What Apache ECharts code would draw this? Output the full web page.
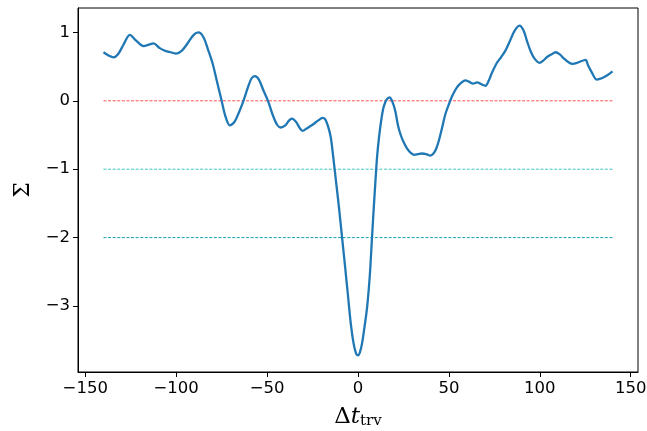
<!DOCTYPE html>
<html><head><meta charset="utf-8">
<script src="https://cdn.jsdelivr.net/npm/echarts@6/dist/echarts.min.js"></script>
<style>html,body{margin:0;padding:0;background:#fff}#c{width:647px;height:431px}</style>
</head><body><div id="c"></div>
<script>
const xValues = [-140,-137,-134.5,-132,-129,-125.5,-122,-118,-115,-112.5,-109,-106,-103,-100,-97,-94,-90.5,-87.8,-85,-82.5,-80,-77,-75,-73,-70.5,-68,-65.5,-63,-60.5,-58.5,-56.7,-54.5,-52,-49.5,-47,-44.5,-42.5,-40,-38,-36.3,-34,-32,-30.5,-28,-25,-22,-19.5,-18,-16.5,-15,-13.5,-12,-10.5,-8.8,-7,-5.5,-4,-2.4,-1,0,1,2.2,3.5,5,6.5,7.7,8.7,9.6,10.5,11.5,12.8,14.1,15.8,17.4,19,20.5,22,23.5,25,27,29,31,33,35.2,37.5,39.8,41.5,43,44.5,46.3,48,50,52,54.5,57,59.1,61,63.3,65.5,68,70.1,72,73.5,76.5,78.5,81,83.5,86,88.8,91,93,95,97,99.8,102,104,106.5,108.6,111,113.2,116,118,121,125.2,126.5,128.5,131.2,133,135.2,137.5,140];
const sigmaValues = [0.71,0.66,0.635,0.68,0.82,0.965,0.88,0.80,0.82,0.84,0.77,0.73,0.71,0.69,0.73,0.83,0.96,1.00,0.93,0.75,0.55,0.22,0.0,-0.22,-0.36,-0.31,-0.17,0.0,0.2,0.33,0.36,0.31,0.15,0.0,-0.2,-0.35,-0.39,-0.36,-0.29,-0.26,-0.31,-0.40,-0.44,-0.40,-0.35,-0.29,-0.25,-0.27,-0.37,-0.53,-0.85,-1.2,-1.55,-1.99,-2.45,-2.85,-3.25,-3.55,-3.70,-3.72,-3.68,-3.55,-3.32,-3.02,-2.55,-2.0,-1.55,-1.17,-0.82,-0.55,-0.28,-0.09,0.02,0.05,-0.02,-0.15,-0.36,-0.50,-0.60,-0.70,-0.76,-0.79,-0.78,-0.77,-0.78,-0.80,-0.77,-0.70,-0.58,-0.39,-0.20,-0.05,0.08,0.20,0.27,0.30,0.28,0.25,0.27,0.24,0.22,0.30,0.40,0.56,0.63,0.73,0.87,1.02,1.10,1.03,0.87,0.72,0.62,0.555,0.59,0.64,0.68,0.71,0.68,0.62,0.56,0.54,0.56,0.60,0.52,0.42,0.31,0.32,0.345,0.38,0.43];
const refLevels = [0, -1, -2];
const refRange = [-140, 140];
const xTicks = [-150,-100,-50,0,50,100,150];
const yTicks = [-3,-2,-1,0,1];

const refColors = ['#ff5050', '#40c4c4', '#18a2b0'];
const fmt = v => String(v).replace('-', '\u2212');
const chart = echarts.init(document.getElementById('c'), null, {renderer: 'canvas'});
const series = [];
refLevels.forEach((lv, i) => {
  series.push({
    type: 'line', data: refRange.map(x => [x, lv]), symbol: 'none', silent: true,
    lineStyle: {color: refColors[i], width: 1, type: [3, 1.6]}, z: 1
  });
});
series.push({
  type: 'line', data: xValues.map((x, i) => [x, sigmaValues[i]]), symbol: 'none',
  smooth: 0.3, lineStyle: {color: '#1f77b4', width: 2.3}, z: 3
});
const axisCommon = {
  axisLine: {show: true, onZero: false, lineStyle: {color: '#000', width: 1}},
  splitLine: {show: false},
};
chart.setOption({
  animation: false,
  backgroundColor: '#fff',
  grid: {left: 78, right: 9, top: 8, bottom: 59, outerBoundsMode: 'none', containLabel: false,
         show: true, borderColor: '#000', borderWidth: 1, backgroundColor: 'transparent'},
  xAxis: Object.assign({
    type: 'value', min: -154, max: 154,
    axisLabel: {customValues: xTicks, formatter: fmt, fontFamily: 'DejaVu Sans', fontSize: 16.5, color: '#000', margin: 8},
    axisTick: {show: true, customValues: xTicks, length: 5, lineStyle: {color: '#000'}},
    name: '{d|Δ}{t|t}{s|trv}', nameLocation: 'middle', nameGap: 33,
    nameTextStyle: {rich: {
      d: {fontFamily: 'DejaVu Serif', fontSize: 23, color: '#000'},
      t: {fontFamily: 'DejaVu Serif', fontStyle: 'italic', fontSize: 23, color: '#000'},
      s: {fontFamily: 'DejaVu Serif', fontSize: 15, color: '#000', padding: [9, 0, 0, 0]}
    }}
  }, axisCommon),
  yAxis: Object.assign({
    type: 'value', min: -3.965, max: 1.357,
    axisLabel: {customValues: yTicks, formatter: fmt, fontFamily: 'DejaVu Sans', fontSize: 16.5, color: '#000', margin: 8},
    axisTick: {show: true, customValues: yTicks, length: 5, lineStyle: {color: '#000'}},
    name: 'Σ', nameLocation: 'middle', nameGap: 43, nameRotate: 90,
    nameTextStyle: {fontFamily: 'DejaVu Serif', fontSize: 22, color: '#000'}
  }, axisCommon),
  series
});
</script></body></html>
